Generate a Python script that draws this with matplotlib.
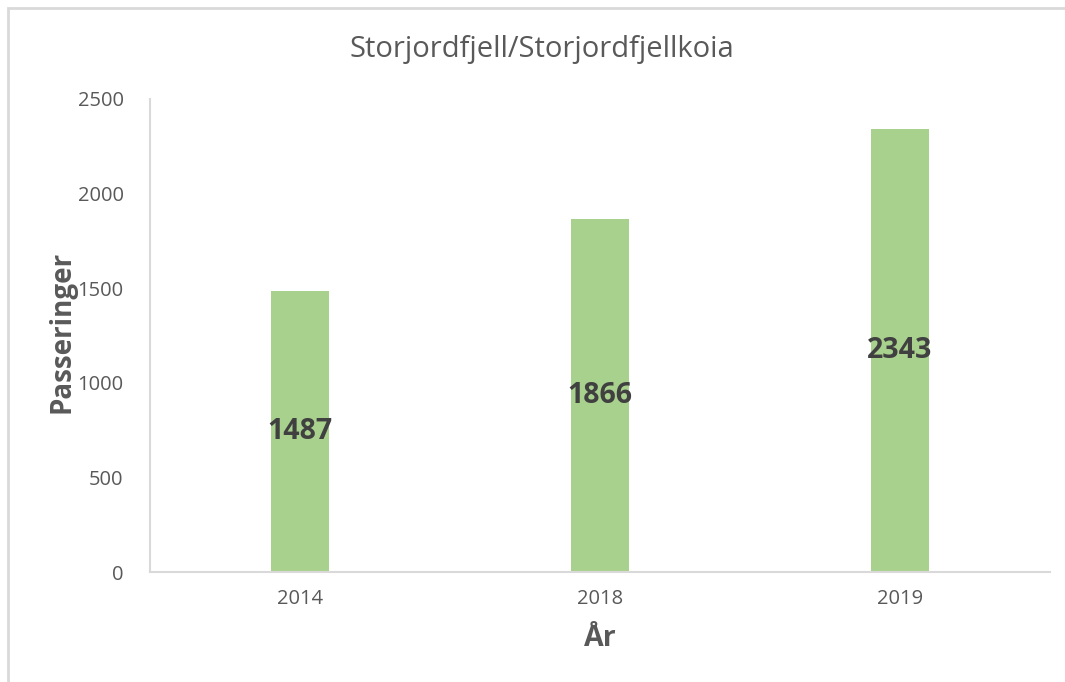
import matplotlib.pyplot as plt
from matplotlib.patches import Rectangle

years = ['2014', '2018', '2019']
passeringer = [1487, 1866, 2343]
yticks = [0, 500, 1000, 1500, 2000, 2500]

W, H = 1065, 682
plt.rcParams['font.family'] = ['Open Sans', 'DejaVu Sans']

fig = plt.figure(figsize=(W / 100, H / 100), dpi=100)
# Excel-style chart border (right/bottom edges fall outside the image)
fig.patches.append(Rectangle((8 / W, -0.05), 1.1, 1 - 8 / H + 0.05,
                             transform=fig.transFigure, fill=False,
                             edgecolor='#d9d9d9', linewidth=2))

ax = fig.add_axes([150 / W, 1 - 572 / H, 900 / W, 473 / H])
xs = range(len(years))
ax.bar(xs, passeringer, width=0.195, color='#a9d18e', zorder=2)
for x, v in zip(xs, passeringer):
    ax.text(x, v / 2, str(v), ha='center', va='center', fontsize=20.5,
            fontweight='bold', color='#404040', zorder=3)

ax.set_xlim(-0.5, 2.5)
ax.set_ylim(0, 2500)
ax.set_yticks(yticks)
ax.set_xticks(list(xs))
ax.set_xticklabels(years)
ax.tick_params(length=0, labelsize=14.5, labelcolor='#595959')
ax.tick_params(axis='y', pad=19)
ax.tick_params(axis='x', pad=12)
for s in ['top', 'right']:
    ax.spines[s].set_visible(False)
for s in ['left', 'bottom']:
    ax.spines[s].set_color('#d9d9d9')
    ax.spines[s].set_linewidth(1.5)

# axis titles and chart title placed in figure pixels
fig.text(62 / W, 1 - 332 / H, 'Passeringer', rotation=90, ha='center',
         va='center', fontsize=20, fontweight='bold', color='#595959')
fig.text(600 / W, 1 - 638 / H, 'År', ha='center', va='center',
         fontsize=20.5, fontweight='bold', color='#595959')
fig.text(542 / W, 1 - 50 / H, 'Storjordfjell/Storjordfjellkoia',
         ha='center', va='center', fontsize=21, color='#595959')

fig.savefig('out.png', dpi=100)
